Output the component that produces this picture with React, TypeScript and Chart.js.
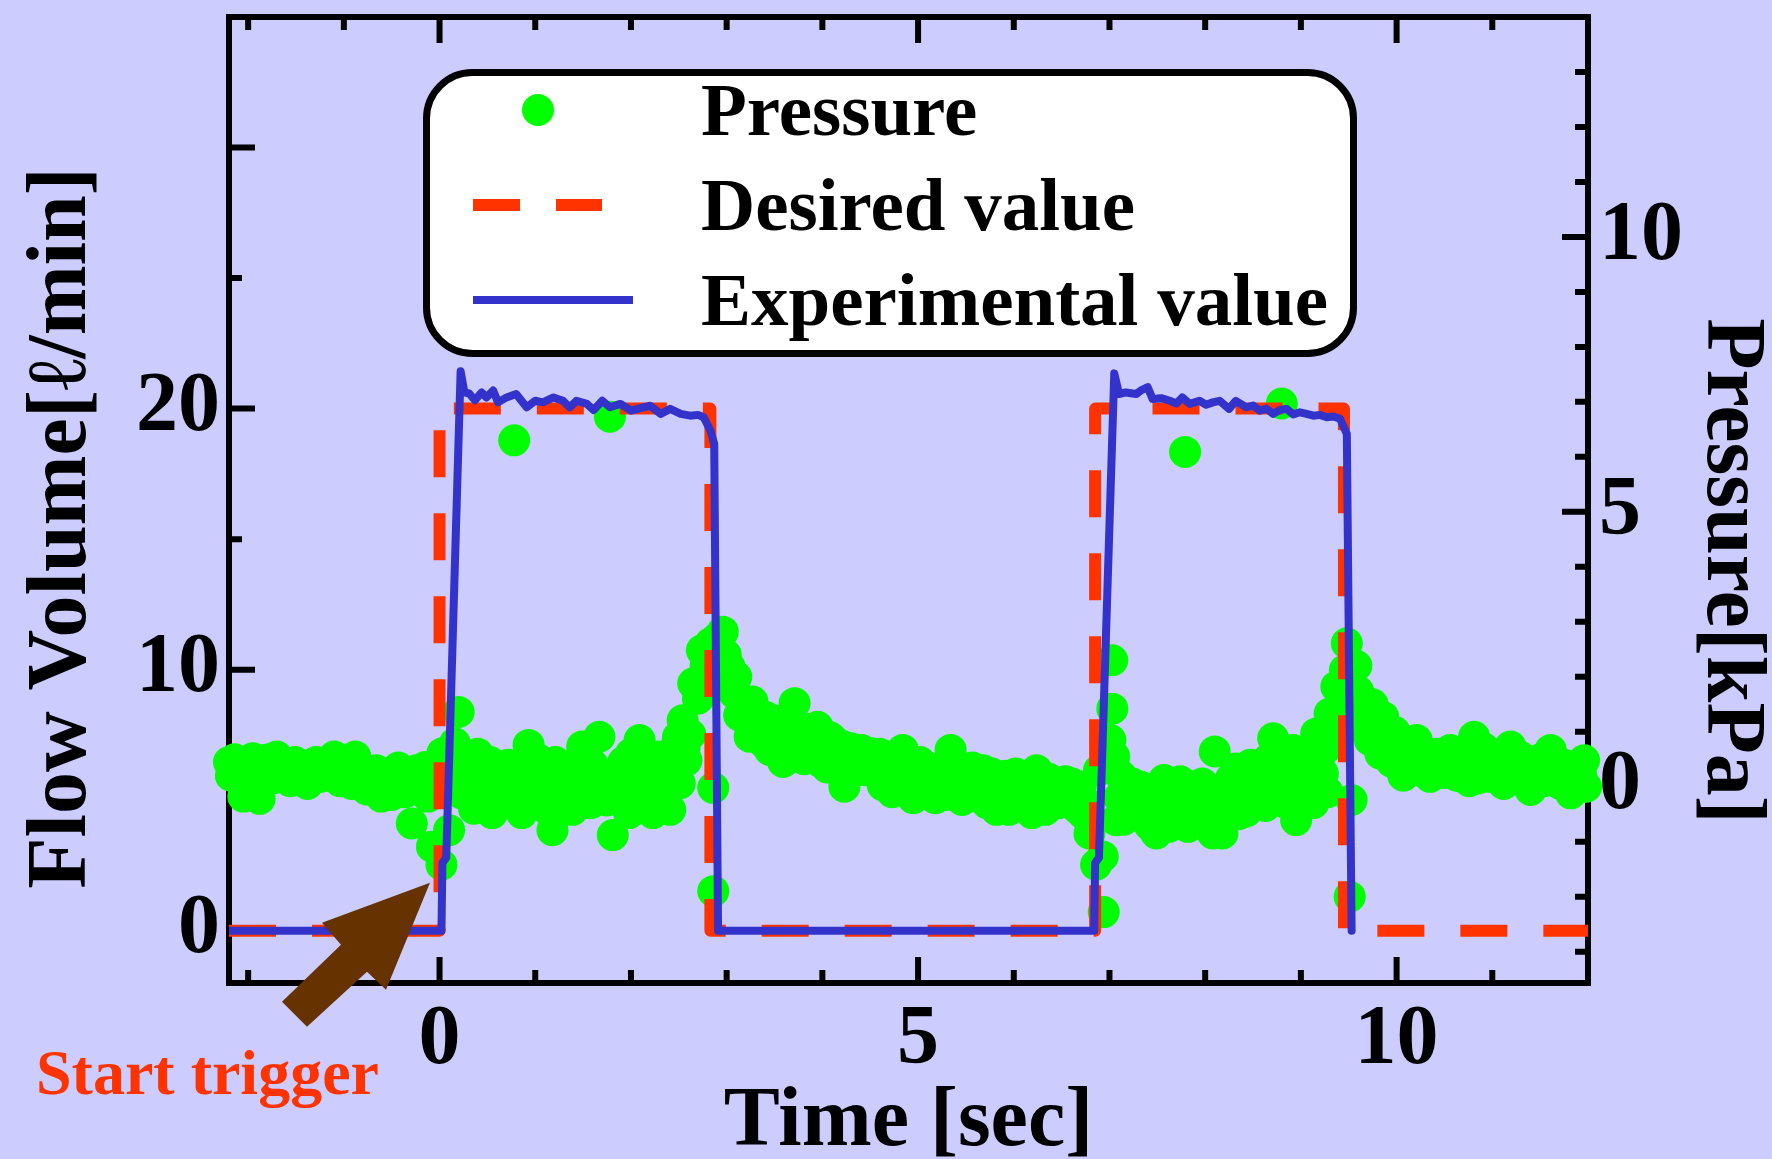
import React, { useEffect, useRef } from "react";
import { Chart, registerables } from "chart.js";

Chart.register(...registerables);

const SERIF = '"Liberation Serif", "DejaVu Serif", "Times New Roman", serif';

// Axis ranges
const timeRange: [number, number] = [-2.2, 12];
const flowRange: [number, number] = [-2, 35];
const pressureRange: [number, number] = [-3.57, 14];

// Tick values
const timeLabelTicks = [0, 5, 10];
const timeMinorTicks = [-2, -1, 1, 2, 3, 4, 6, 7, 8, 9, 11];
const flowLabelTicks = [0, 10, 20];
const flowMajorTicks = [0, 10, 20, 30];
const flowMinorTicks = [5, 15, 25];
const pressureLabelTicks = [0, 5, 10];
const pressureMinorTicks = [-3, -2, -1, 1, 2, 3, 4, 6, 7, 8, 9, 11, 12, 13];

// Desired flow [l/min] (time [sec], flow)
const desiredFlow: [number, number][] = [
  [-2.2, 0], [0, 0], [0, 20], [2.83, 20], [2.83, 0],
  [6.85, 0], [6.85, 20], [9.45, 20], [9.45, 0], [12, 0],
];

// Measured flow [l/min] (time [sec], flow)
const experimentalFlow: [number, number][] = [
  [-2.2, 0], [0.02, 0], [0.03, 2.6], [0.07, 2.8], [0.22, 21.43],
  [0.26, 20.62], [0.31, 20.58], [0.37, 20.32], [0.44, 20.62], [0.49, 20.43],
  [0.56, 20.69], [0.61, 20.24], [0.7, 20.43], [0.8, 20.56], [0.91, 20.05],
  [1.0, 20.3], [1.08, 20.24], [1.19, 20.43], [1.29, 20.3], [1.36, 20.05],
  [1.43, 20.3], [1.54, 20.18], [1.61, 19.95], [1.7, 20.3], [1.78, 20.05],
  [1.89, 20.18], [2.0, 19.92], [2.1, 20.02], [2.2, 20.11], [2.31, 19.8],
  [2.41, 19.99], [2.52, 19.8], [2.62, 19.73], [2.7, 19.76], [2.76, 19.67],
  [2.83, 19.16], [2.87, 18.65], [2.91, 0],
  [6.84, 0], [6.85, 2.6], [6.89, 2.8], [7.05, 21.35],
  [7.1, 20.56], [7.17, 20.62], [7.28, 20.56], [7.33, 20.7], [7.4, 20.82],
  [7.45, 20.37], [7.54, 20.4], [7.63, 20.3], [7.7, 20.2], [7.76, 20.43],
  [7.84, 20.18], [7.94, 20.3], [8.01, 20.15], [8.08, 20.24], [8.15, 20.3],
  [8.25, 19.99], [8.32, 20.3], [8.43, 20.05], [8.5, 20.12], [8.57, 19.92],
  [8.64, 20.0], [8.71, 19.8], [8.78, 19.95], [8.85, 19.99], [8.92, 19.78],
  [8.99, 19.86], [9.06, 19.8], [9.13, 19.73], [9.2, 19.76], [9.27, 19.67],
  [9.34, 19.7], [9.41, 19.61], [9.48, 19.03], [9.53, 0],
];

// Measured pressure [kPa] (time [sec], pressure)
const pressure: [number, number][] = [
  // before the trigger
  [-2.2, 0.45], [-2.18, 0.2], [-2.14, 0.5], [-2.05, -0.18], [-2.0, 0.45],
  [-1.95, 0.52], [-1.92, 0.1], [-1.88, -0.22], [-1.83, 0.48], [-1.78, 0.5],
  [-1.74, 0.15], [-1.7, 0.55], [-1.66, 0.25], [-1.62, 0.38], [-1.56, 0.1],
  [-1.51, 0.45], [-1.47, 0.35], [-1.42, 0.22], [-1.38, 0.05], [-1.33, 0.3],
  [-1.29, 0.45], [-1.25, 0.18], [-1.2, 0.24], [-1.15, 0.2], [-1.1, 0.55],
  [-1.04, 0.1], [-1.0, 0.42], [-0.95, 0.2], [-0.92, 0.05], [-0.88, 0.55],
  [-0.84, 0.3], [-0.8, 0.15], [-0.76, -0.05], [-0.71, 0.12], [-0.66, 0.3],
  [-0.61, -0.18], [-0.55, 0.2], [-0.5, -0.15], [-0.47, 0.0], [-0.43, 0.35],
  [-0.4, 0.25], [-0.36, -0.1], [-0.33, 0.1], [-0.29, -0.67], [-0.24, 0.3],
  [-0.2, 0.15], [-0.15, 0.36], [-0.12, -0.18], [-0.08, -1.09], [-0.03, 0.05],
  // first pulse
  [0.02, -1.42], [0.03, 0.61], [0.06, 0.3], [0.1, -0.79], [0.16, 0.79],
  [0.2, 1.36], [0.23, -0.12], [0.26, 0.25], [0.3, 0.5], [0.33, 0.0],
  [0.36, -0.4], [0.4, 0.6], [0.44, 0.36], [0.47, -0.2], [0.5, 0.1],
  [0.53, 0.45], [0.55, -0.48], [0.6, 0.2], [0.63, -0.05], [0.66, -0.25],
  [0.69, 0.1], [0.72, 0.4], [0.76, -0.12], [0.78, 6.3], [0.82, 0.3],
  [0.86, -0.48], [0.9, 0.05], [0.93, 0.76], [0.97, -0.2], [1.0, 0.1],
  [1.03, 0.5], [1.05, -0.3], [1.1, 0.35], [1.12, -0.4], [1.15, 0.12],
  [1.18, -0.79], [1.21, 0.45], [1.25, 0.2], [1.27, -0.1], [1.3, -0.2],
  [1.34, 0.3], [1.39, -0.42], [1.42, 0.0], [1.45, 0.3], [1.49, 0.73],
  [1.52, 0.2], [1.55, -0.1], [1.58, -0.3], [1.6, 0.4], [1.64, 0.2],
  [1.67, 0.91], [1.72, 0.1], [1.75, -0.25], [1.78, 6.73], [1.81, -0.88],
  [1.85, 0.06], [1.88, 0.2], [1.92, 0.45], [1.95, -0.1], [1.98, -0.48],
  [2.0, 0.6], [2.03, 0.3], [2.06, -0.2], [2.09, 0.85], [2.12, 0.45],
  [2.15, 0.2], [2.19, 0.0], [2.23, -0.48], [2.25, 0.3], [2.28, 0.55],
  [2.32, -0.2], [2.35, 0.1], [2.38, 0.45], [2.41, -0.42], [2.44, 0.2],
  [2.46, 0.7], [2.49, 0.9], [2.51, 0.06], [2.54, 1.21], [2.56, 0.7],
  [2.58, 0.48], [2.62, 0.95], [2.65, 1.88], [2.7, 1.6], [2.74, 2.48],
  [2.78, 2.2], [2.83, 2.61], [2.86, -0.02], [2.86, -1.9], [2.9, 2.7],
  // decay after the first pulse
  [2.96, 2.82], [2.99, 2.4], [3.01, 1.94], [3.03, 2.18], [3.08, 1.7],
  [3.1, 2.0], [3.13, 1.3], [3.15, 1.6], [3.18, 1.45], [3.21, 1.2],
  [3.24, 0.91], [3.27, 1.55], [3.3, 1.35], [3.33, 0.95], [3.36, 1.1],
  [3.39, 0.8], [3.41, 1.27], [3.45, 0.67], [3.48, 0.95], [3.52, 1.2],
  [3.55, 0.75], [3.59, 0.45], [3.62, 0.8], [3.65, 1.0], [3.68, 0.55],
  [3.71, 1.52], [3.74, 1.0], [3.78, 0.8], [3.81, 0.5], [3.85, 1.05],
  [3.88, 0.85], [3.9, 0.6], [3.95, 1.09], [3.98, 0.45], [4.02, 0.75],
  [4.05, 0.35], [4.08, 0.9], [4.11, 0.85], [4.14, 0.6], [4.17, 0.4],
  [4.2, 0.75], [4.23, 0.0], [4.27, 0.3], [4.3, 0.7], [4.33, 0.5],
  [4.36, 0.3], [4.41, 0.67], [4.45, 0.3], [4.51, 0.61], [4.54, 0.4],
  [4.57, 0.25], [4.6, 0.6], [4.63, 0.03], [4.67, 0.3], [4.7, 0.5],
  [4.73, -0.1], [4.77, 0.15], [4.8, 0.45], [4.84, 0.67], [4.87, 0.0],
  [4.9, 0.2], [4.95, -0.21], [4.98, 0.15], [5.02, 0.45], [5.05, -0.1],
  [5.09, 0.36], [5.12, 0.25], [5.14, 0.0], [5.18, -0.21], [5.21, 0.1],
  [5.25, 0.3], [5.29, -0.15], [5.31, 0.2], [5.34, 0.67], [5.38, 0.1],
  [5.42, 0.15], [5.46, -0.24], [5.5, 0.0], [5.53, 0.2], [5.57, 0.35],
  [5.6, -0.1], [5.64, 0.0], [5.68, 0.3], [5.72, -0.3], [5.75, -0.05],
  [5.77, 0.24], [5.8, 0.0], [5.82, -0.42], [5.85, -0.15], [5.88, 0.1],
  [5.92, 0.2], [5.95, -0.42], [5.98, -0.1], [6.02, 0.24], [6.05, 0.05],
  [6.08, -0.2], [6.11, -0.35], [6.13, 0.15], [6.16, -0.1], [6.19, -0.48],
  [6.22, 0.1], [6.24, 0.3], [6.27, -0.3], [6.3, -0.1], [6.33, -0.42],
  [6.36, 0.15], [6.4, 0.05], [6.43, -0.2], [6.47, -0.3], [6.5, -0.05],
  [6.54, 0.1], [6.57, -0.25], [6.61, 0.06], [6.64, -0.1], [6.67, -0.4],
  [6.7, 0.0], [6.72, -0.48], [6.76, -0.3], [6.79, -0.85],
  // second pulse
  [6.86, -1.42], [6.89, 0.3], [6.93, -1.27], [6.94, -2.28], [7.01, 0.85],
  [7.03, 2.3], [7.03, 1.42], [7.05, 0.55], [7.07, -0.61], [7.1, -0.2],
  [7.12, 0.2], [7.15, -0.6], [7.18, -0.3], [7.21, -0.2], [7.24, 0.06],
  [7.27, -0.4], [7.3, -0.5], [7.33, 0.0], [7.36, -0.1], [7.39, -0.3],
  [7.42, -0.7], [7.45, -0.1], [7.49, -0.85], [7.52, -0.5], [7.55, -0.2],
  [7.57, 0.12], [7.6, -0.3], [7.62, -0.73], [7.65, 0.05], [7.68, -0.3],
  [7.71, -0.5], [7.74, 0.1], [7.77, -0.2], [7.79, 6.09], [7.82, -0.73],
  [7.85, -0.45], [7.88, -0.25], [7.91, 0.0], [7.94, -0.6], [7.97, 0.06],
  [8.0, -0.1], [8.03, -0.4], [8.06, -0.3], [8.08, -0.85], [8.1, 0.64],
  [8.13, -0.2], [8.18, -0.85], [8.21, -0.5], [8.24, 0.0], [8.27, 0.15],
  [8.29, -0.36], [8.32, 0.33], [8.35, -0.5], [8.37, 0.0], [8.4, -0.2],
  [8.43, -0.45], [8.47, 0.4], [8.5, 0.1], [8.54, -0.3], [8.57, 0.2],
  [8.6, -0.12], [8.63, -0.35], [8.66, 0.5], [8.69, 0.1], [8.71, 0.88],
  [8.75, -0.2], [8.78, 0.2], [8.8, 6.97], [8.83, 0.4], [8.85, -0.3],
  [8.88, -0.1], [8.92, 0.67], [8.95, -0.61], [8.98, 0.1], [9.02, 0.4],
  [9.05, 0.6], [9.08, -0.06], [9.11, 0.3], [9.13, -0.3], [9.16, 0.97],
  [9.19, 0.5], [9.23, 0.24], [9.26, 0.7], [9.28, -0.1], [9.3, 1.33],
  [9.32, 1.1], [9.34, 0.8], [9.37, 1.82], [9.39, 1.2], [9.42, 1.5],
  [9.44, 1.8], [9.46, 2.12], [9.48, 2.61], [9.51, -2.0], [9.53, -0.24],
  // decay after the second pulse
  [9.58, 2.2], [9.6, 1.73], [9.63, 1.2], [9.66, 1.4], [9.69, 1.0],
  [9.72, 0.85], [9.75, 1.5], [9.78, 1.3], [9.8, 0.9], [9.83, 0.6],
  [9.86, 1.27], [9.89, 1.0], [9.92, 0.7], [9.95, 0.45], [9.98, 1.0],
  [10.01, 0.7], [10.04, 0.45], [10.07, 0.2], [10.1, 0.8], [10.13, 0.55],
  [10.16, 0.3], [10.19, 0.3], [10.21, 0.85], [10.25, 0.6], [10.28, 0.4],
  [10.31, 0.3], [10.35, 0.18], [10.38, 0.5], [10.42, 0.6], [10.45, 0.3],
  [10.5, 0.25], [10.53, 0.45], [10.56, 0.67], [10.6, 0.6], [10.63, 0.2],
  [10.66, 0.2], [10.7, 0.45], [10.73, 0.6], [10.76, 0.1], [10.79, 0.3],
  [10.81, 0.91], [10.85, 0.15], [10.88, 0.35], [10.91, 0.7], [10.93, 0.55],
  [10.98, 0.18], [11.01, 0.3], [11.05, 0.4], [11.08, 0.5], [11.12, 0.05],
  [11.15, 0.3], [11.19, 0.73], [11.22, 0.2], [11.26, 0.3], [11.29, 0.55],
  [11.33, 0.5], [11.36, 0.2], [11.4, -0.06], [11.44, 0.2], [11.47, 0.45],
  [11.5, 0.5], [11.54, 0.1], [11.57, 0.3], [11.61, 0.67], [11.64, 0.35],
  [11.68, 0.2], [11.71, 0.05], [11.75, 0.4], [11.78, 0.3], [11.82, -0.12],
  [11.86, 0.1], [11.9, 0.3], [11.93, 0.2], [11.96, 0.48], [11.98, 0.0],
];

// Point the trigger arrow at (time [sec], flow [l/min])
const triggerTip = { time: -0.1, flow: 1.84 };

const COLORS = {
  background: "#CCCCFF",
  pressure: "#00FF00",
  desired: "#FF3300",
  experimental: "#3333CC",
  arrow: "#663300",
  trigger: "#FF3300",
};

const MAJOR_TICK = 26;
const MINOR_TICK = 13;

const decorations = {
  id: "decorations",
  beforeDraw(chart: any) {
    const { ctx, width, height } = chart;
    ctx.save();
    ctx.fillStyle = COLORS.background;
    ctx.fillRect(0, 0, width, height);
    ctx.restore();
  },
  beforeDatasetsDraw(chart: any) {
    const { ctx, chartArea: a, scales } = chart;
    const x = scales.x;
    const yF = scales.yF;
    const yP = scales.yP;
    ctx.save();
    ctx.strokeStyle = "#000";
    ctx.lineWidth = 6;
    ctx.lineCap = "butt";
    ctx.beginPath();
    const xTicks = (vals: number[], len: number) => {
      vals.forEach((v) => {
        const px = x.getPixelForValue(v);
        ctx.moveTo(px, a.bottom);
        ctx.lineTo(px, a.bottom - len);
        ctx.moveTo(px, a.top);
        ctx.lineTo(px, a.top + len);
      });
    };
    xTicks(timeLabelTicks, MAJOR_TICK);
    xTicks(timeMinorTicks, MINOR_TICK);
    flowMajorTicks.forEach((v) => {
      const py = yF.getPixelForValue(v);
      ctx.moveTo(a.left, py);
      ctx.lineTo(a.left + MAJOR_TICK, py);
    });
    flowMinorTicks.forEach((v) => {
      const py = yF.getPixelForValue(v);
      ctx.moveTo(a.left, py);
      ctx.lineTo(a.left + MINOR_TICK, py);
    });
    pressureLabelTicks.forEach((v) => {
      const py = yP.getPixelForValue(v);
      ctx.moveTo(a.right, py);
      ctx.lineTo(a.right - MAJOR_TICK, py);
    });
    pressureMinorTicks.forEach((v) => {
      const py = yP.getPixelForValue(v);
      ctx.moveTo(a.right, py);
      ctx.lineTo(a.right - MINOR_TICK, py);
    });
    ctx.stroke();
    ctx.lineJoin = "miter";
    ctx.strokeRect(a.left, a.top, a.right - a.left, a.bottom - a.top);
    ctx.restore();
  },
  afterDatasetsDraw(chart: any) {
    const { ctx, chartArea: a, scales } = chart;
    ctx.save();

    // Legend box
    const bx = 426.5, by = 72.5, bw = 927, bh = 281, r = 46;
    ctx.beginPath();
    ctx.moveTo(bx + r, by);
    ctx.arcTo(bx + bw, by, bx + bw, by + bh, r);
    ctx.arcTo(bx + bw, by + bh, bx, by + bh, r);
    ctx.arcTo(bx, by + bh, bx, by, r);
    ctx.arcTo(bx, by, bx + bw, by, r);
    ctx.closePath();
    ctx.fillStyle = "#FFFFFF";
    ctx.fill();
    ctx.lineWidth = 7;
    ctx.strokeStyle = "#000";
    ctx.stroke();

    const rowY = [110, 205, 300];
    const textX = 701;
    ctx.font = `bold 75px ${SERIF}`;
    ctx.textAlign = "left";
    ctx.textBaseline = "alphabetic";
    chart.data.datasets.forEach((ds: any, i: number) => {
      const cy = rowY[i];
      if (!ds.showLine) {
        ctx.beginPath();
        ctx.fillStyle = ds.pointBackgroundColor;
        ctx.arc(538, cy, 16, 0, Math.PI * 2);
        ctx.fill();
      } else {
        ctx.beginPath();
        ctx.strokeStyle = ds.borderColor;
        ctx.lineWidth = ds.borderWidth;
        ctx.lineCap = "butt";
        ctx.setLineDash(ds.borderDash || []);
        ctx.moveTo(473, cy);
        ctx.lineTo(ds.borderDash ? 602 : 633, cy);
        ctx.stroke();
        ctx.setLineDash([]);
      }
      ctx.fillStyle = "#000";
      ctx.fillText(ds.label, textX, cy + 25);
    });

    // Axis titles
    ctx.fillStyle = "#000";
    ctx.font = `bold 84px ${SERIF}`;
    ctx.textAlign = "center";
    ctx.textBaseline = "alphabetic";
    ctx.fillText("Time [sec]", (a.left + a.right) / 2, a.bottom + 162);

    ctx.save();
    ctx.translate(85, (a.top + a.bottom) / 2 + 28);
    ctx.rotate(-Math.PI / 2);
    ctx.fillText("Flow Volume[\u2113/min]", 0, 0);
    ctx.restore();

    ctx.save();
    ctx.translate(1708, (a.top + a.bottom) / 2 + 71);
    ctx.rotate(Math.PI / 2);
    ctx.fillText("Pressure[kPa]", 0, 0);
    ctx.restore();

    // Trigger arrow
    const tx = scales.x.getPixelForValue(triggerTip.time);
    const ty = scales.yF.getPixelForValue(triggerTip.flow);
    const shape = [
      [0, 0], [-108, 40], [-89, 62], [-148, 119], [-123, 144],
      [-63, 89], [-44, 107],
    ];
    ctx.beginPath();
    shape.forEach(([dx, dy], i) => {
      if (i === 0) ctx.moveTo(tx + dx, ty + dy);
      else ctx.lineTo(tx + dx, ty + dy);
    });
    ctx.closePath();
    ctx.fillStyle = COLORS.arrow;
    ctx.fill();

    ctx.font = `bold 64px ${SERIF}`;
    ctx.fillStyle = COLORS.trigger;
    ctx.textAlign = "left";
    ctx.fillText("Start trigger", 36, 1094);

    ctx.restore();
  },
};

const tickFont = { family: SERIF, size: 84, weight: "bold" as const };

const noScalePadding = (s: any) => {
  s.paddingTop = 0;
  s.paddingBottom = 0;
  s.paddingLeft = 0;
  s.paddingRight = 0;
};

export default function App() {
  const ref = useRef<HTMLCanvasElement>(null);

  useEffect(() => {
    const canvas = ref.current;
    if (!canvas) return;
    const chart = new Chart(canvas, {
      type: "scatter",
      data: {
        datasets: [
          {
            label: "Pressure",
            data: pressure.map(([x, y]) => ({ x, y })),
            yAxisID: "yP",
            showLine: false,
            pointRadius: 16,
            pointHoverRadius: 16,
            pointBackgroundColor: COLORS.pressure,
            pointBorderColor: COLORS.pressure,
            pointBorderWidth: 0,
            clip: false,
            order: 3,
          } as any,
          {
            label: "Desired value",
            data: desiredFlow.map(([x, y]) => ({ x, y })),
            yAxisID: "yF",
            showLine: true,
            borderColor: COLORS.desired,
            borderWidth: 12,
            borderDash: [47, 36],
            borderCapStyle: "butt",
            borderJoinStyle: "round",
            pointRadius: 0,
            pointHoverRadius: 0,
            tension: 0,
            fill: false,
            order: 2,
          } as any,
          {
            label: "Experimental value",
            data: experimentalFlow.map(([x, y]) => ({ x, y })),
            yAxisID: "yF",
            showLine: true,
            borderColor: COLORS.experimental,
            borderWidth: 8,
            borderCapStyle: "round",
            borderJoinStyle: "round",
            pointRadius: 0,
            pointHoverRadius: 0,
            tension: 0,
            fill: false,
            order: 1,
          } as any,
        ],
      },
      options: {
        animation: false,
        responsive: false,
        maintainAspectRatio: false,
        events: [],
        layout: { padding: { top: 17, left: 0, right: 0, bottom: 0 } },
        plugins: {
          legend: { display: false },
          tooltip: { enabled: false },
          title: { display: false },
        },
        scales: {
          x: {
            type: "linear",
            position: "bottom",
            min: timeRange[0],
            max: timeRange[1],
            grid: { display: false, drawTicks: false },
            border: { display: false },
            ticks: {
              font: tickFont,
              color: "#000",
              padding: 8,
              maxRotation: 0,
              autoSkip: false,
            },
            afterBuildTicks: (s: any) => {
              s.ticks = timeLabelTicks.map((value) => ({ value }));
            },
            afterFit: (s: any) => {
              s.height = 176;
              noScalePadding(s);
            },
          },
          yF: {
            type: "linear",
            position: "left",
            min: flowRange[0],
            max: flowRange[1],
            grid: { display: false, drawTicks: false },
            border: { display: false },
            ticks: { font: tickFont, color: "#000", padding: 9, autoSkip: false },
            afterBuildTicks: (s: any) => {
              s.ticks = flowLabelTicks.map((value) => ({ value }));
            },
            afterFit: (s: any) => {
              s.width = 229;
              noScalePadding(s);
            },
          },
          yP: {
            type: "linear",
            position: "right",
            min: pressureRange[0],
            max: pressureRange[1],
            grid: { display: false, drawTicks: false },
            border: { display: false },
            ticks: { font: tickFont, color: "#000", padding: 11, autoSkip: false },
            afterBuildTicks: (s: any) => {
              s.ticks = pressureLabelTicks.map((value) => ({ value }));
            },
            afterFit: (s: any) => {
              s.width = 184;
              noScalePadding(s);
            },
          },
        },
      } as any,
      plugins: [decorations],
    });
    return () => chart.destroy();
  }, []);

  return (
    <div
      style={{
        position: "fixed",
        left: 0,
        top: 0,
        width: 1772,
        height: 1159,
        background: COLORS.background,
        overflow: "hidden",
      }}
    >
      <canvas
        ref={ref}
        width={1772}
        height={1159}
        style={{ display: "block", width: 1772, height: 1159 }}
      />
    </div>
  );
}
